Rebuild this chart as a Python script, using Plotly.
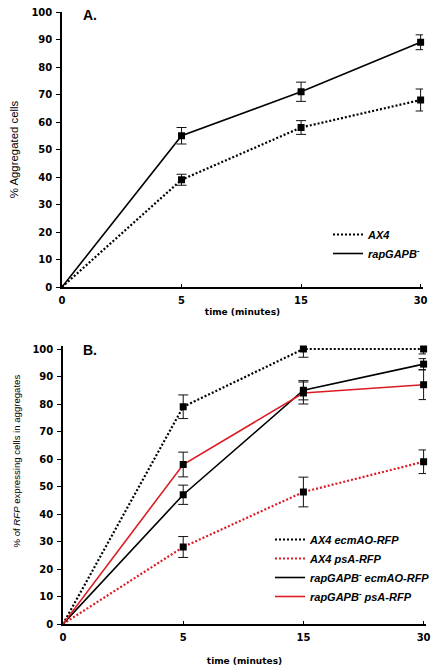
import plotly.graph_objects as go

# ---------------- data ----------------
time_labels = ["0", "5", "15", "30"]

# Panel A: % aggregated cells
a_ax4 = [0, 39, 58, 68]
a_ax4_err = [0, 2.0, 2.5, 4.0]
a_rap = [0, 55, 71, 89]
a_rap_err = [0, 3.0, 3.5, 2.7]

# Panel B: % of RFP expressing cells in aggregates
b_ax4_ecm = [0, 79, 100, 100]
b_ax4_ecm_err = [0, 4.3, 3.0, 1.8]
b_ax4_psa = [0, 28, 48, 59]
b_ax4_psa_err = [0, 3.8, 5.4, 4.3]
b_rap_ecm = [0, 47, 85, 94.5]
b_rap_ecm_err = [0, 3.5, 3.5, 2.0]
b_rap_psa = [0, 58, 84, 87]
b_rap_psa_err = [0, 4.5, 4.0, 5.4]

y_ticks = [0, 10, 20, 30, 40, 50, 60, 70, 80, 90, 100]

RED = "#dc1c24"
BLACK = "#000000"

fig = go.Figure()


def add_series(y, err, name, color, dotted, xa, ya, legend):
    dash = "2px,2px" if dotted else "solid"
    width = 2.2 if dotted else 1.6
    # connecting line (legend entry)
    fig.add_trace(go.Scatter(
        x=time_labels, y=y, mode="lines", name=name,
        line=dict(color=color, width=width, dash=dash),
        xaxis=xa, yaxis=ya, legend=legend, showlegend=True,
        hoverinfo="skip", cliponaxis=False,
    ))
    # markers with error bars (skip the origin point)
    fig.add_trace(go.Scatter(
        x=time_labels[1:], y=y[1:], mode="markers",
        marker=dict(symbol="square", size=7, color=BLACK),
        error_y=dict(type="data", array=err[1:], visible=True,
                     color="#111111", thickness=1, width=5),
        xaxis=xa, yaxis=ya, showlegend=False, cliponaxis=False,
    ))


def lbl(txt):
    return "<b><i>" + txt + "</i></b>"


# Panel A
add_series(a_ax4, a_ax4_err, lbl("AX4"), BLACK, True, "x", "y", "legend")
add_series(a_rap, a_rap_err, lbl("rapGAPB<sup>-</sup>"), BLACK, False, "x", "y", "legend")

# Panel B
add_series(b_ax4_ecm, b_ax4_ecm_err, lbl("AX4 ecmAO-RFP"), BLACK, True, "x2", "y2", "legend2")
add_series(b_ax4_psa, b_ax4_psa_err, lbl("AX4 psA-RFP"), RED, True, "x2", "y2", "legend2")
add_series(b_rap_ecm, b_rap_ecm_err, lbl("rapGAPB<sup>-</sup> ecmAO-RFP"), BLACK, False, "x2", "y2", "legend2")
add_series(b_rap_psa, b_rap_psa_err, lbl("rapGAPB<sup>-</sup> psA-RFP"), RED, False, "x2", "y2", "legend2")

W, H = 441, 672
ML, MR, MT, MB = 62, 15, 12, 48
PW = W - ML - MR
PH = H - MT - MB


def px_x(px):
    return (px - ML) / PW


def px_y(py):
    return (H - MB - py) / PH


tickfont = dict(family="DejaVu Sans", size=10, color=BLACK, weight="bold")
xtitlefont = dict(family="DejaVu Sans", size=9, color=BLACK, weight="bold")


def xaxis_cfg(domain, anchor, standoff):
    return dict(
        domain=domain, anchor=anchor, type="category",
        categoryorder="array", categoryarray=time_labels,
        range=[0, 3.02],
        showline=True, linecolor=BLACK, linewidth=1.5,
        ticks="inside", ticklen=3, tickcolor=BLACK,
        tickfont=tickfont, showgrid=False, zeroline=False,
        title=dict(text="time (minutes)", font=xtitlefont, standoff=standoff),
        ticklabelstandoff=3,
    )


def yaxis_cfg(domain, anchor, title_text, size, ymax):
    return dict(
        domain=domain, anchor=anchor, range=[0, ymax],
        tickmode="array", tickvals=y_ticks,
        showline=True, linecolor=BLACK, linewidth=1.5,
        ticks="outside", ticklen=4, tickcolor=BLACK,
        tickfont=tickfont, showgrid=False, zeroline=False,
        title=dict(text=title_text,
                   font=dict(family="Liberation Sans, Arial", size=size, color=BLACK),
                   standoff=10),
        ticklabelstandoff=2,
    )


b_ytitle = "&nbsp;" * 18 + "% of <i>RFP</i> expressing cells in aggregates"

legend_font = dict(family="Liberation Sans, Arial", size=11, color=BLACK)

# panel B: let the 100 % line show fully (small headroom above the 100 tick)
b_top_px = 349 - 275 * 0.01

fig.update_layout(
    width=W, height=H,
    margin=dict(l=ML, r=MR, t=MT, b=MB, autoexpand=False),
    paper_bgcolor="white", plot_bgcolor="white",
    xaxis=xaxis_cfg([0, px_x(423)], "y", 4),
    yaxis=yaxis_cfg([px_y(287), 1.0], "x", "% Aggregated cells", 11.4, 100),
    xaxis2=xaxis_cfg([px_x(63), 1.0], "y2", 16),
    yaxis2=yaxis_cfg([0, px_y(b_top_px)], "x2", b_ytitle, 9.6, 101),
    legend=dict(
        x=px_x(328), y=px_y(220), xanchor="left", yanchor="top",
        bgcolor="rgba(0,0,0,0)", borderwidth=0, font=legend_font,
        traceorder="normal", itemwidth=30,
    ),
    legend2=dict(
        x=px_x(270), y=px_y(525), xanchor="left", yanchor="top",
        bgcolor="rgba(0,0,0,0)", borderwidth=0, font=legend_font,
        traceorder="normal", itemwidth=30,
    ),
    annotations=[
        dict(text="<b>A.</b>", x=px_x(81), y=px_y(15), xref="paper", yref="paper",
             xanchor="left", yanchor="middle", showarrow=False,
             font=dict(family="Liberation Sans, Arial", size=14, color=BLACK)),
        dict(text="<b>B.</b>", x=px_x(81), y=px_y(350), xref="paper", yref="paper",
             xanchor="left", yanchor="middle", showarrow=False,
             font=dict(family="Liberation Sans, Arial", size=14, color=BLACK)),
    ],
)

fig.write_html("out.html", config={"displayModeBar": False},
               post_script="document.body.style.margin='0';")
